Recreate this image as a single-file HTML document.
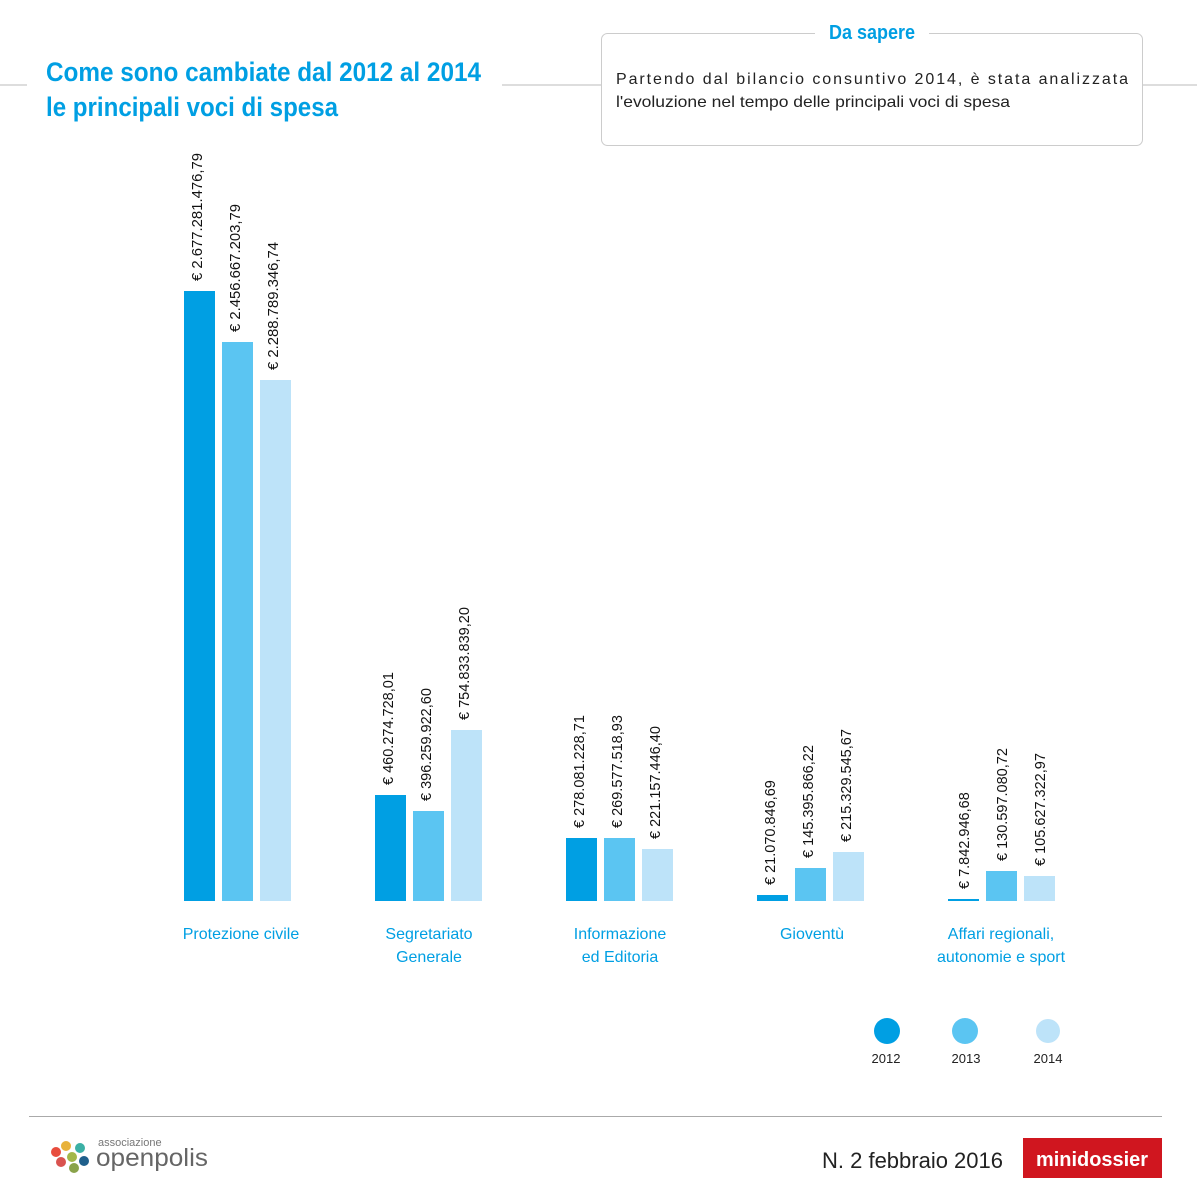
<!DOCTYPE html>
<html><head><meta charset="utf-8"><style>
body{margin:0;background:#fff}
svg text{font-family:"Liberation Sans",sans-serif}
</style></head><body>
<svg width="1197" height="1197" viewBox="0 0 1197 1197" xmlns="http://www.w3.org/2000/svg">
<rect width="1197" height="1197" fill="#fff"/>
<line x1="0" y1="85" x2="27" y2="85" stroke="#ddd" stroke-width="2"/>
<line x1="502" y1="85" x2="601" y2="85" stroke="#ddd" stroke-width="2"/>
<line x1="1143" y1="85" x2="1197" y2="85" stroke="#ddd" stroke-width="2"/>
<text x="46" y="81" font-size="27" font-weight="bold" fill="#009fe3" textLength="435" lengthAdjust="spacingAndGlyphs">Come sono cambiate dal 2012 al 2014</text>
<text x="46" y="116" font-size="27" font-weight="bold" fill="#009fe3" textLength="292" lengthAdjust="spacingAndGlyphs">le principali voci di spesa</text>
<rect x="601.5" y="33.5" width="541" height="112" rx="6" fill="#fff" stroke="#ccc"/>
<rect x="815" y="24" width="114" height="20" fill="#fff"/>
<text x="872" y="39" font-size="20" font-weight="bold" fill="#009fe3" text-anchor="middle" textLength="86" lengthAdjust="spacingAndGlyphs">Da sapere</text>
<text x="616" y="84" font-size="16" fill="#222" textLength="512" lengthAdjust="spacing">Partendo dal bilancio consuntivo 2014, è stata analizzata</text>
<text x="616" y="107" font-size="16" fill="#222" textLength="394" lengthAdjust="spacingAndGlyphs">l'evoluzione nel tempo delle principali voci di spesa</text>
<g>
<rect x="184" y="291" width="31" height="610" fill="#009fe3"/>
<rect x="222" y="342" width="31" height="559" fill="#5bc5f2"/>
<rect x="260" y="380" width="31" height="521" fill="#bde3f9"/>
<rect x="375" y="795" width="31" height="106" fill="#009fe3"/>
<rect x="413" y="811" width="31" height="90" fill="#5bc5f2"/>
<rect x="451" y="730" width="31" height="171" fill="#bde3f9"/>
<rect x="566" y="838" width="31" height="63" fill="#009fe3"/>
<rect x="604" y="838" width="31" height="63" fill="#5bc5f2"/>
<rect x="642" y="849" width="31" height="52" fill="#bde3f9"/>
<rect x="757" y="895" width="31" height="6" fill="#009fe3"/>
<rect x="795" y="868" width="31" height="33" fill="#5bc5f2"/>
<rect x="833" y="852" width="31" height="49" fill="#bde3f9"/>
<rect x="948" y="899" width="31" height="2" fill="#009fe3"/>
<rect x="986" y="871" width="31" height="30" fill="#5bc5f2"/>
<rect x="1024" y="876" width="31" height="25" fill="#bde3f9"/>
</g>
<g font-size="14.5" fill="#111">
<text transform="translate(202,281) rotate(-90)" textLength="128" lengthAdjust="spacingAndGlyphs">€ 2.677.281.476,79</text>
<text transform="translate(240,332) rotate(-90)" textLength="128" lengthAdjust="spacingAndGlyphs">€ 2.456.667.203,79</text>
<text transform="translate(278,370) rotate(-90)" textLength="128" lengthAdjust="spacingAndGlyphs">€ 2.288.789.346,74</text>
<text transform="translate(393,785) rotate(-90)">€ 460.274.728,01</text>
<text transform="translate(431,801) rotate(-90)">€ 396.259.922,60</text>
<text transform="translate(469,720) rotate(-90)">€ 754.833.839,20</text>
<text transform="translate(584,828) rotate(-90)">€ 278.081.228,71</text>
<text transform="translate(622,828) rotate(-90)">€ 269.577.518,93</text>
<text transform="translate(660,839) rotate(-90)">€ 221.157.446,40</text>
<text transform="translate(775,885) rotate(-90)">€ 21.070.846,69</text>
<text transform="translate(813,858) rotate(-90)">€ 145.395.866,22</text>
<text transform="translate(851,842) rotate(-90)">€ 215.329.545,67</text>
<text transform="translate(969,889) rotate(-90)">€ 7.842.946,68</text>
<text transform="translate(1007,861) rotate(-90)">€ 130.597.080,72</text>
<text transform="translate(1045,866) rotate(-90)">€ 105.627.322,97</text>
</g>
<g font-size="16" fill="#009fe3" text-anchor="middle">
<text x="241" y="939">Protezione civile</text>
<text x="429" y="939">Segretariato</text><text x="429" y="962">Generale</text>
<text x="620" y="939">Informazione</text><text x="620" y="962">ed Editoria</text>
<text x="812" y="939">Gioventù</text>
<text x="1001" y="939">Affari regionali,</text><text x="1001" y="962">autonomie e sport</text>
</g>
<circle cx="887" cy="1031" r="13" fill="#009fe3"/>
<circle cx="965" cy="1031" r="13" fill="#5bc5f2"/>
<circle cx="1048" cy="1031" r="12" fill="#bde3f9"/>
<g font-size="13" fill="#222" text-anchor="middle">
<text x="886" y="1063">2012</text><text x="966" y="1063">2013</text><text x="1048" y="1063">2014</text>
</g>
<line x1="29" y1="1116.5" x2="1162" y2="1116.5" stroke="#aaa"/>
<g>
<circle cx="56" cy="1152" r="5" fill="#e84c3d"/><circle cx="66" cy="1146" r="5" fill="#e8b23a"/>
<circle cx="61" cy="1162" r="5" fill="#d9534f"/><circle cx="72" cy="1157" r="5" fill="#a3b84a"/>
<circle cx="80" cy="1148" r="5" fill="#3bb0a5"/><circle cx="84" cy="1161" r="5" fill="#1f5f8b"/>
<circle cx="74" cy="1168" r="5" fill="#8aa34a"/>
</g>
<text x="98" y="1146" font-size="11" fill="#777">associazione</text>
<text x="96" y="1166" font-size="25" fill="#666" textLength="112" lengthAdjust="spacingAndGlyphs">openpolis</text>
<text x="1003" y="1168" font-size="22" fill="#222" text-anchor="end" textLength="181" lengthAdjust="spacingAndGlyphs">N. 2 febbraio 2016</text>
<rect x="1023" y="1138" width="139" height="40" fill="#d0161f"/>
<text x="1092" y="1166" font-size="20" font-weight="bold" fill="#fff" text-anchor="middle" textLength="112" lengthAdjust="spacingAndGlyphs">minidossier</text>
</svg>
</body></html>
